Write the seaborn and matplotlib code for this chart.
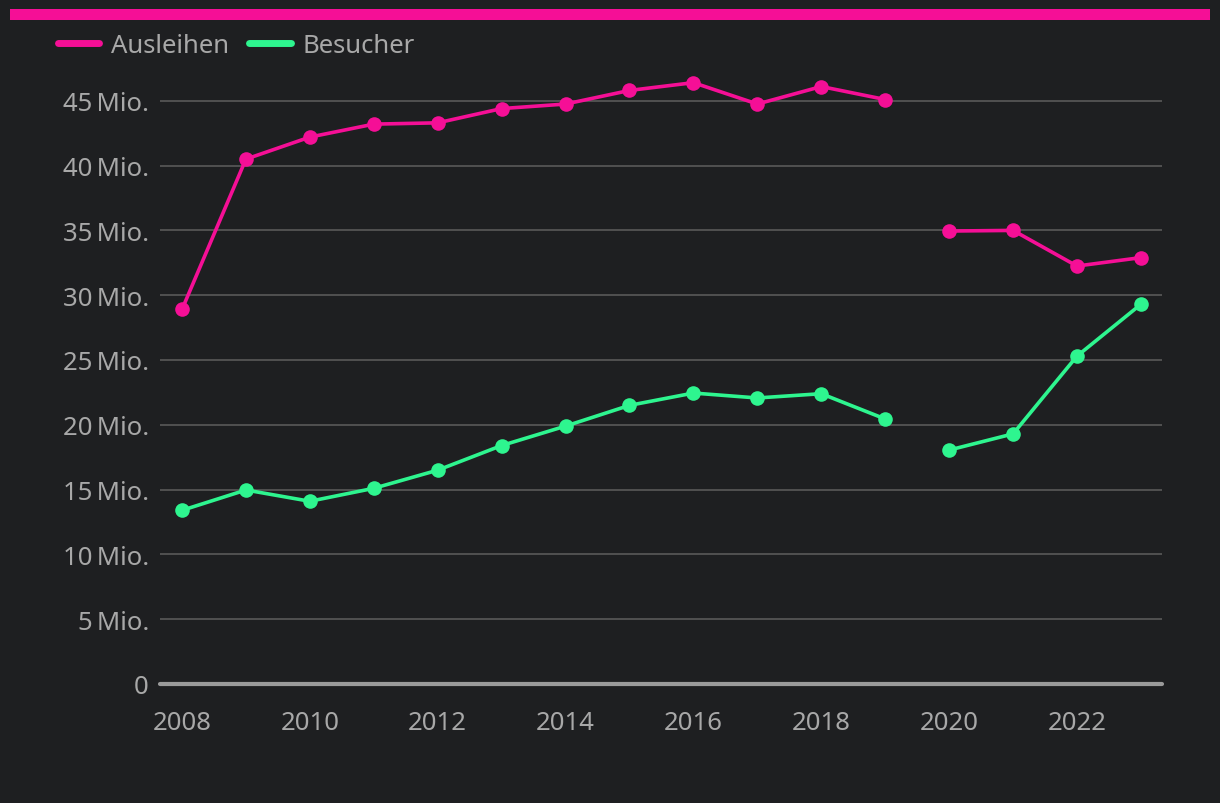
import pandas as pd
import matplotlib.pyplot as plt
import matplotlib.ticker as mticker
from matplotlib.patches import Rectangle
from matplotlib.lines import Line2D
import seaborn as sns

years = list(range(2008, 2024))
ausleihen = [28.9, 40.5, 42.2, 43.2, 43.3, 44.4, 44.75, 45.8, 46.4, 44.75,
             46.1, 45.1, 34.95, 35.0, 32.25, 32.9]
besucher = [13.4, 14.97, 14.1, 15.1, 16.5, 18.4, 19.9, 21.5, 22.45, 22.07,
            22.4, 20.45, 18.05, 19.3, 25.3, 29.3]
series_names = ["Ausleihen", "Besucher"]
colors = {"Ausleihen": "#f50f96", "Besucher": "#2ef58f"}

bg = "#1e1f21"
txt = "#a8a8a8"

rows = []
for name, vals in zip(series_names, [ausleihen, besucher]):
    for y, v in zip(years, vals):
        rows.append({"Jahr": y, "Wert": v * 1e6, "Reihe": name,
                     "Abschnitt": 0 if y < 2020 else 1})
df = pd.DataFrame(rows)

sns.set_style("dark")
plt.rcParams['font.family'] = ['Noto Sans', 'DejaVu Sans']

fig = plt.figure(figsize=(12.2, 8.04), dpi=100, facecolor=bg)
ax = fig.add_axes([160 / 1220, 1 - 685 / 804, 1002 / 1220, (685 - 69.4) / 804])
ax.set_facecolor(bg)

sns.lineplot(data=df, x="Jahr", y="Wert", hue="Reihe", units="Abschnitt",
             estimator=None, palette=colors, marker="o", markersize=10.5,
             markeredgewidth=0, linewidth=2.6, legend=False, ax=ax, zorder=3)

ax.set_xlim(2007.656, 2023.33)
ax.set_ylim(0, 47.5e6)
ax.set_xticks(range(2008, 2024, 2))
ax.set_yticks([i * 5e6 for i in range(10)])
ax.yaxis.set_major_formatter(mticker.FuncFormatter(
    lambda v, p: "0" if v == 0 else f"{v / 1e6:.0f}\u2009Mio."))
ax.grid(axis="y", color="#555555", linewidth=1.3)
ax.grid(axis="x", visible=False)
ax.axhline(0, color="#9a9a9a", linewidth=3, zorder=2, clip_on=False)
for s in ax.spines.values():
    s.set_visible(False)
ax.tick_params(axis="both", length=0, labelsize=18.5, labelcolor=txt)
ax.tick_params(axis="x", pad=19)
ax.tick_params(axis="y", pad=8)
ax.set_xlabel("")
ax.set_ylabel("")

fig.add_artist(Rectangle((10 / 1220, 1 - 21 / 804), 1200 / 1220, 11 / 804,
                         transform=fig.transFigure, color="#f50f96", lw=0))

handles = [Line2D([], [], color=colors[n], linewidth=5, solid_capstyle="round")
           for n in series_names]
fig.legend(handles, series_names, loc="upper left",
           bbox_to_anchor=(35 / 1220, 1 - 11 / 804), ncol=2, frameon=False,
           fontsize=18.5, labelcolor=txt, handlelength=1.6, handletextpad=0.45,
           columnspacing=0.8)

fig.savefig("out.png", dpi=100, facecolor=bg)
